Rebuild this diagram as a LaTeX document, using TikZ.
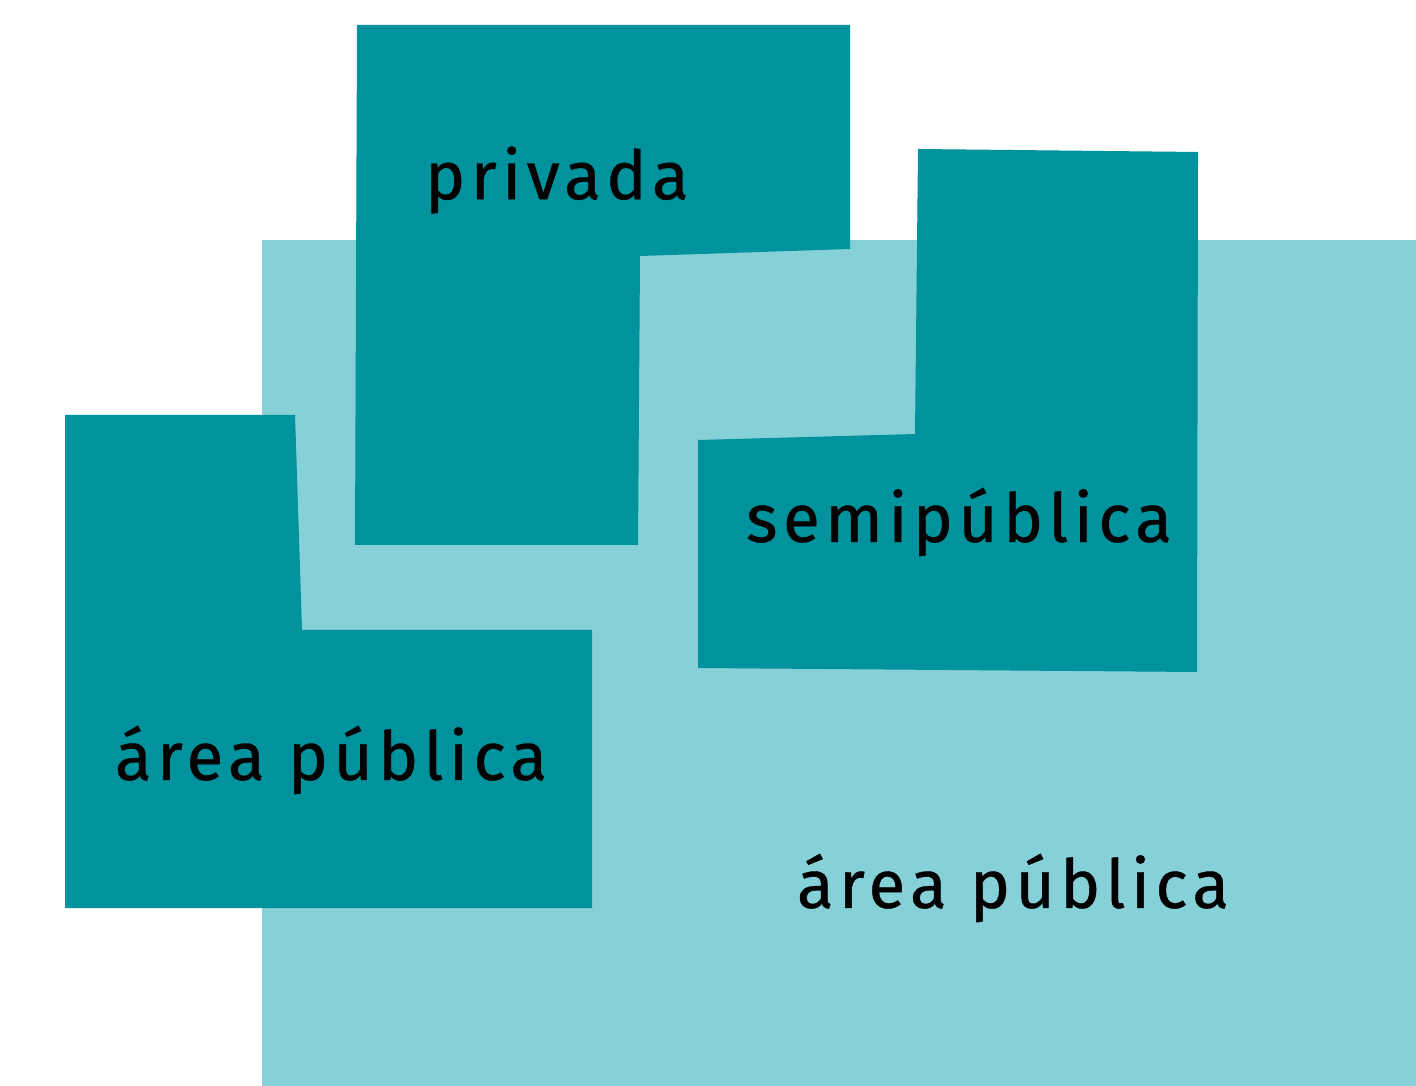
\documentclass[tikz,border=0pt]{standalone}
\usepackage{fontspec}
\setmainfont{Fira Sans}[LetterSpace=8, FakeBold=0.6]
\definecolor{publico}{HTML}{86D1D8}
\definecolor{bloque}{HTML}{00929D}
\tikzset{
  zona/.style={fill=bloque},
  rotulo/.style={text=black, inner sep=0pt, font=\fontsize{19.2}{19}\selectfont}
}
\begin{document}
\begin{tikzpicture}[x=0.01cm, y=-0.01cm]
      \useasboundingbox (0, 0) rectangle (1416, 1086);
      \fill [publico] (262, 240) rectangle (1416, 1086);
      % bloques
      \fill [zona] (357, 25) -- (850, 25) -- (850, 249) -- (640, 256) -- (638, 545) -- (355, 545) -- cycle;
      \fill [zona] (918, 149) -- (1198, 152) -- (1197, 672) -- (698, 668) -- (698, 440) -- (915, 434) -- cycle;
      \fill [zona] (65, 415) -- (295, 415) -- (302, 630) -- (592, 630) -- (592, 908) -- (65, 908) -- cycle;
      % textos
      \node [rotulo] (privada) at (557, 180) {privada};
      \node [rotulo] (semi) at (959, 522) {semipública};
      \node [rotulo] (publica1) at (331, 760) {área pública};
      \node [rotulo] (publica2) at (1013, 888) {área pública};
    \end{tikzpicture}
\end{document}
